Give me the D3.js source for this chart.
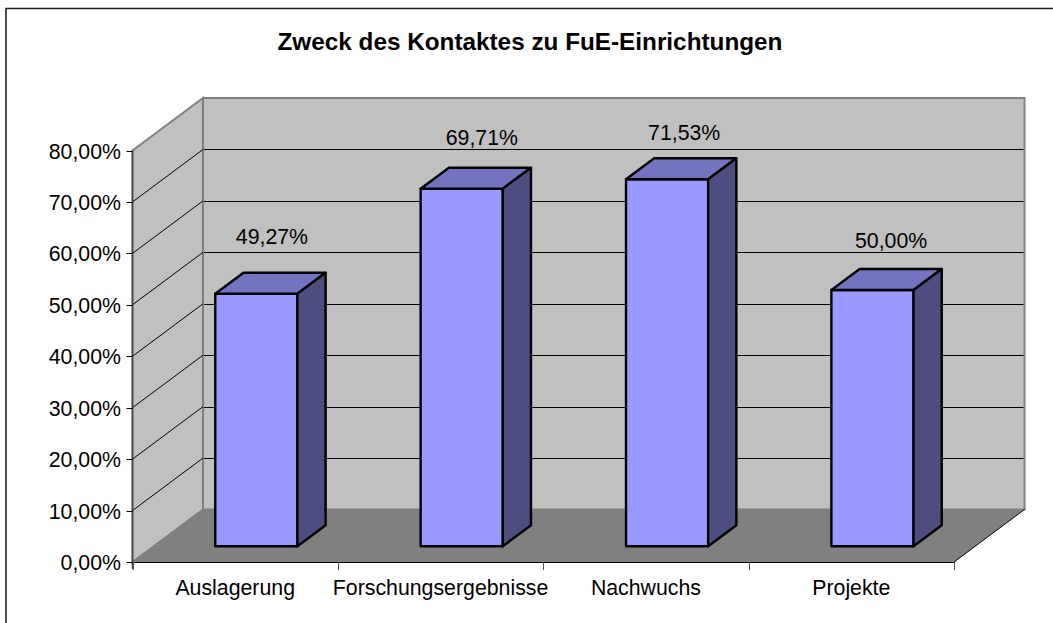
<!DOCTYPE html>
<html><head><meta charset="utf-8">
<style>html,body{margin:0;padding:0;background:#fff}svg{display:block}text{font-family:"Liberation Sans",Arial,sans-serif;fill:#000}</style>
<script src="https://cdn.jsdelivr.net/npm/d3@7/dist/d3.min.js"></script>
</head><body><script>
const titleText = "Zweck des Kontaktes zu FuE-Einrichtungen";
const categories = ["Auslagerung","Forschungsergebnisse","Nachwuchs","Projekte"];
const values = [49.27,69.71,71.53,50.00];
const yTicks = [0,10,20,30,40,50,60,70,80];

const W=1053,H=623;
const fmt=v=>d3.format(".2f")(v).replace(".",",")+"%";
const x0=132.5,x1=954,yB=562,yT=150.5,dx=70.5,dy=-52.5;
const x=d3.scaleBand().domain(categories).range([x0,x1]).paddingInner(0.6).paddingOuter(0.3);
const y=d3.scaleLinear().domain([0,80]).range([yB,yT]);
const svg=d3.select("body").append("svg").attr("width",W).attr("height",H);
svg.append("path").attr("d","M6,623V8.5H1053").attr("fill","none").attr("stroke","#222").attr("stroke-width",1.6);
svg.append("text").attr("x",530).attr("y",49.5).attr("text-anchor","middle").attr("font-size",24.3).attr("font-weight","bold").text(titleText);
const pts=a=>a.map(p=>p.join(",")).join(" ");
svg.append("polygon").attr("points",pts([[x0+dx,y(80)+dy],[x1+dx,y(80)+dy],[x1+dx,yB+dy],[x0+dx,yB+dy]])).attr("fill","#c0c0c0").attr("stroke","#808080").attr("stroke-width",2);
svg.append("polygon").attr("points",pts([[x0,y(80)],[x0+dx,y(80)+dy],[x0+dx,yB+dy],[x0,yB]])).attr("fill","#c0c0c0").attr("stroke","#808080").attr("stroke-width",2);
svg.append("polygon").attr("points",pts([[x0,yB],[x0+dx,yB+dy],[x1+dx,yB+dy],[x1,yB]])).attr("fill","#808080");
svg.append("line").attr("x1",x1).attr("y1",yB).attr("x2",x1+dx).attr("y2",yB+dy).attr("stroke","#000");
const gt=yTicks.filter(t=>t>0&&t<80);
svg.selectAll(".gb").data(gt).join("line").attr("x1",x0+dx+1).attr("x2",x1+dx-1).attr("y1",d=>Math.round(y(d)+dy)+.5).attr("y2",d=>Math.round(y(d)+dy)+.5).attr("stroke","#000").attr("stroke-width",1);
svg.selectAll(".gs").data(gt).join("line").attr("x1",x0).attr("x2",x0+dx).attr("y1",d=>y(d)).attr("y2",d=>y(d)+dy).attr("stroke","#000");
svg.append("line").attr("x1",x0).attr("x2",x0).attr("y1",yT).attr("y2",yB+7).attr("stroke","#444").attr("stroke-width",1.5);
svg.selectAll(".yt").data(yTicks).join("line").attr("x1",x0-6).attr("x2",x0).attr("y1",d=>Math.round(y(d))+.5).attr("y2",d=>Math.round(y(d))+.5).attr("stroke","#000");
svg.selectAll(".yl").data(yTicks).join("text").attr("x",x0-11.5).attr("y",d=>y(d)+8).attr("text-anchor","end").attr("font-size",21.3).text(d=>fmt(d));
svg.append("line").attr("x1",x0).attr("x2",x1).attr("y1",yB+.5).attr("y2",yB+.5).attr("stroke","#000");
const step=x.step();
svg.selectAll(".xt").data(d3.range(categories.length+1)).join("line").attr("x1",d=>Math.round(x0+d*step)+.5).attr("x2",d=>Math.round(x0+d*step)+.5).attr("y1",yB).attr("y2",yB+8).attr("stroke","#555");
svg.selectAll(".xl").data(categories).join("text").attr("x",d=>x(d)+x.bandwidth()/2).attr("y",594.5).attr("text-anchor","middle").attr("font-size",21.3).text(d=>d);
const fd=0.3,bd=0.4;
const lift=[28,22,17,20], shift=[1.5,6,3,4.5];
const g=svg.selectAll(".bar").data(categories.map((c,i)=>({c,v:values[i],i}))).join("g");
const st={stroke:"#000","stroke-width":2.4,"stroke-linejoin":"round"};
function face(fill,f){const p=g.append("polygon").attr("fill",fill).attr("points",f);Object.entries(st).forEach(([k,v])=>p.attr(k,v));}
const ox=fd*dx,oy=fd*dy,bx=bd*dx,by=bd*dy;
face("#9999ff",d=>{const l=x(d.c)+ox,r=l+x.bandwidth(),b=yB+oy,t=y(d.v)+oy+1;return pts([[l,t],[r,t],[r,b],[l,b]]);});
face("#7373bf",d=>{const l=x(d.c)+ox,r=l+x.bandwidth(),t=y(d.v)+oy+1;return pts([[l,t],[r,t],[r+bx,t+by],[l+bx,t+by]]);});
face("#4d4d80",d=>{const r=x(d.c)+ox+x.bandwidth(),b=yB+oy,t=y(d.v)+oy+1;return pts([[r,t],[r+bx,t+by],[r+bx,b+by],[r,b]]);});
g.append("text").attr("x",d=>x(d.c)+x.bandwidth()/2+ox+bx/2+shift[d.i]).attr("y",d=>y(d.v)+oy+by-lift[d.i]).attr("text-anchor","middle").attr("font-size",21.3).text(d=>fmt(d.v));
</script></body></html>
